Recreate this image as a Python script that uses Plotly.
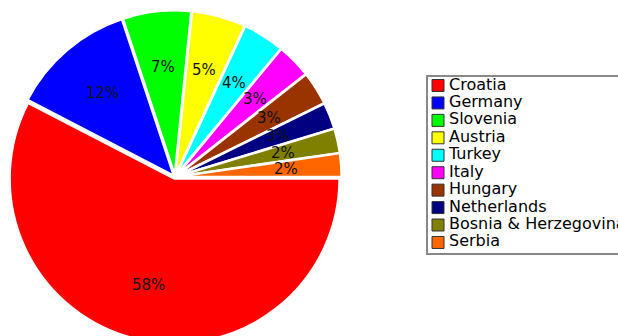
import math
import plotly.graph_objects as go

countries = ["Croatia", "Germany", "Slovenia", "Austria", "Turkey", "Italy",
             "Hungary", "Netherlands", "Bosnia & Herzegovina", "Serbia"]
shares = [57.6, 12.3, 6.7, 5.3, 4.1, 3.4, 3.3, 2.6, 2.4, 2.3]
colors = ["#FF0000", "#0000FF", "#00FF00", "#FFFF00", "#00FFFF", "#FF00FF",
          "#993300", "#000080", "#808000", "#FF6600"]

# figure is taller than the 336px window; the overflow is hidden
W, H = 618, 352
cx, cy, R, pull = 175.0, 177.0, 165.0, 0.01
half = R * (1 + pull)
dom_x = [(cx - half) / W, (cx + half) / W]
dom_y = [1 - (cy + half) / H, 1 - (cy - half) / H]

fig = go.Figure()
fig.add_trace(go.Pie(
    labels=countries, values=shares, sort=False,
    direction="clockwise", rotation=90, pull=pull,
    marker=dict(colors=colors, line=dict(color="white", width=2.5)),
    textinfo="none", showlegend=False, hoverinfo="label+percent",
    domain=dict(x=dom_x, y=dom_y),
))

# percentage labels at a fixed fraction of the radius along each slice's mid-angle
total = sum(shares)
annotations = []
cum = 0.0
for v in shares:
    mid = -(cum + v / 2) / total * 2 * math.pi
    cum += v
    rr = 0.673 * R
    annotations.append(dict(
        x=(cx + rr * math.cos(mid)) / W, y=1 - (cy - rr * math.sin(mid)) / H,
        xref="paper", yref="paper", xanchor="center", yanchor="middle",
        showarrow=False, text=f"{v / total * 100:.0f}%",
        font=dict(family="DejaVu Sans", size=15, color="#111111"),
    ))

# legend drawn as a swatch + text column on a hidden axis pair
fig.add_trace(go.Scatter(
    x=[0] * len(countries), y=countries, mode="markers",
    marker=dict(symbol="square", size=12, color=colors,
                line=dict(color="#333333", width=1)),
    xaxis="x", yaxis="y", showlegend=False, cliponaxis=False, hoverinfo="skip",
))
fig.add_trace(go.Scatter(
    x=[0] * len(countries), y=countries, mode="markers+text",
    text=countries, textposition="middle right",
    textfont=dict(family="DejaVu Sans", size=16, color="black"),
    marker=dict(symbol="square", size=16, color="rgba(0,0,0,0)"),
    xaxis="x", yaxis="y", showlegend=False, cliponaxis=False, hoverinfo="skip",
))

item0, step = 85.5, 17.44
ytop = item0 - step / 2
ybot = ytop + step * len(countries)
fig.update_layout(
    width=W, height=H,
    margin=dict(l=0, r=0, t=0, b=0, autoexpand=False),
    paper_bgcolor="white", plot_bgcolor="rgba(0,0,0,0)",
    annotations=annotations,
    xaxis=dict(domain=[438 / W, 1.0], range=[0, 1], visible=False, fixedrange=True),
    yaxis=dict(domain=[1 - ybot / H, 1 - ytop / H], range=[len(countries) - 0.5, -0.5],
               type="category", categoryorder="array", categoryarray=countries,
               visible=False, fixedrange=True),
    shapes=[dict(type="rect", xref="paper", yref="paper",
                 x0=427 / W, x1=1.1, y0=1 - 254 / H, y1=1 - 76 / H,
                 line=dict(color="#888888", width=2), fillcolor="rgba(0,0,0,0)")],
)
fig.write_html(
    "out.html",
    config={"displayModeBar": False},
    post_script="document.body.style.margin='0';"
                "document.documentElement.style.overflow='hidden';"
                "document.body.style.overflow='hidden';",
)
